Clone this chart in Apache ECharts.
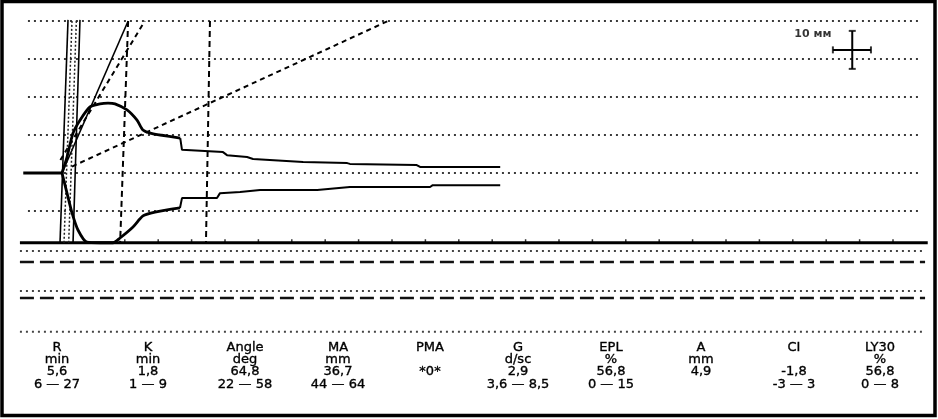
<!DOCTYPE html>
<html><head><meta charset="utf-8">
<script src="https://cdn.jsdelivr.net/npm/echarts@6/dist/echarts.min.js"></script>
<style>html,body{margin:0;padding:0;background:#fff}#c{width:938px;height:419px}</style>
</head><body><div id="c"></div>
<script>
// x: time (min), y: amplitude (mm) relative to trace centre
const flatStart = [[-0.2,0],[5.6,0]];
const upperEarly = [[5.6,0],[6.35,4.2],[7.25,10.5],[8.29,13.9],[9.79,17.4],[11.29,18.2],[12.49,18.4],[13.53,18.2],[15.33,16.6],[16.83,13.9],[17.72,11.3],[18.77,10.5],[20.3,10.0],[23.3,9.2]];
const upperLate = [[23.3,9.2],[23.56,6.1],[29.7,5.5],[30.3,4.7],[33.3,4.2],[34.2,3.7],[41.7,2.9],[48.3,2.6],[48.7,2.4],[58.7,2.1],[59.2,1.6],[71.2,1.6]];
const lowerEarly = [[5.6,0],[6.35,-5.3],[7.1,-10.5],[7.99,-15.0],[9.34,-18.2],[11.29,-18.35],[13.23,-18.35],[14.28,-17.1],[16.23,-14.2],[17.72,-11.3],[19.52,-10.3],[23.26,-9.2]];
const lowerLate = [[23.26,-9.2],[23.56,-6.6],[28.8,-6.6],[29.25,-5.3],[32.25,-5.0],[35.25,-4.5],[43.8,-4.5],[48.7,-3.7],[60.7,-3.7],[61.1,-3.2],[71.2,-3.2]];
const gridLevels = [40,30,20,10,0,-10];
const gridSpan = [0.5,134];
const baseLevel = -18.35;
const baseSpan = [-0.7,135.2];
const lowerDotted = [-20.5,-31.05,-41.8];
const lowerDashed = [-23.4,-32.9];
const lowerSpan = [-0.7,134.8];
const angleLine = [[5.6,0],[15.5,40]];
const angleLow = [[7.1,1.7],[54.4,40]];
const angleHigh = [[5.36,3.4],[18.0,40]];
const vertLines = [[[15.5,40],[14.3,-18.35]],[[27.75,40],[27.15,-18.35]]];
const bandSolid = [[[5.3,-18.35],[6.5,40.3]],[[7.25,-18.35],[8.29,40.3]]];
const bandDotted = [[[5.9,-18.35],[7.1,40.3]],[[6.6,-18.35],[7.75,40.3]]];
const baseTicks = [15,20,25,30,35,40,45,50,55,60,65,70,75,80,85,90,95,100,105,110,115,120,125,130];
const scaleCross = {v:[[123.9,27.4],[123.9,37.4]], h:[[121.0,32.4],[126.7,32.4]]};
const scaleLabel = [[118.0,36.6]];
const paramNames = ['R','K','Angle','MA','PMA','G','EPL','A','CI','LY30'];
const paramUnits = ['min','min','deg','mm','','d/sc','%','mm','','%'];
const paramValues = ['5,6','1,8','64,8','36,7','*0*','2,9','56,8','4,9','-1,8','56,8'];
const paramRanges = ['6 — 27','1 — 9','22 — 58','44 — 64','','3,6 — 8,5','0 — 15','','-3 — 3','0 — 8'];

const colX = [57,148,245,338,430,518,611,701,794,880];
const rowY = [348,360,372,385];

function ln(data, width, type, color, z, smooth){
  return {type:'line', data:data, symbol:'none', silent:true, animation:false, smooth:smooth||false,
    lineStyle:{width:width, type:type||'solid', color:color||'#000', cap:'butt'}, z:z||2};
}
const series = [];
gridLevels.forEach(l=>series.push(ln([[gridSpan[0],l],[gridSpan[1],l]],2,[2,4],'#3a3a3a',1)));
lowerDotted.forEach(l=>series.push(ln([[lowerSpan[0],l],[lowerSpan[1],l]],2,[2,4],'#444',1)));
lowerDashed.forEach(l=>series.push(ln([[lowerSpan[0],l],[lowerSpan[1],l]],2.5,[14,6],'#111',1)));
series.push(ln([[baseSpan[0],baseLevel],[baseSpan[1],baseLevel]],2.8,'solid','#000',3));
bandSolid.forEach(d=>series.push(ln(d,1.6,'solid','#000',4)));
bandDotted.forEach(d=>series.push(ln(d,1.5,[2,2],'#222',4)));
vertLines.forEach(d=>series.push(ln(d,2,[6,4],'#000',3)));
series.push(ln(angleLine,1.6,'solid','#000',3));
series.push(ln(angleLow,2,[5,4],'#000',3));
series.push(ln(angleHigh,2,[5,4],'#000',3));
series.push(ln(flatStart,3,'solid','#000',5));
series.push(ln(upperEarly,2.8,'solid','#000',5,0.25));
series.push(ln(lowerEarly,2.8,'solid','#000',5,0.25));
series.push(ln(upperLate,2,'solid','#000',5));
series.push(ln(lowerLate,2,'solid','#000',5));
series.push(ln(scaleCross.v,2,'solid','#000',5));
series.push(ln(scaleCross.h,2,'solid','#000',5));
series.push({type:'scatter', data:[scaleCross.v[0],scaleCross.v[1]], symbol:'rect', symbolSize:[7,2], itemStyle:{color:'#000'}, silent:true, animation:false, z:5});
series.push({type:'scatter', data:[scaleCross.h[0],scaleCross.h[1]], symbol:'rect', symbolSize:[2,7], itemStyle:{color:'#000'}, silent:true, animation:false, z:5});
series.push({type:'scatter', data:baseTicks.map(t=>[t,baseLevel]), symbol:'rect', symbolSize:[1.5,3], symbolOffset:[0,-2], itemStyle:{color:'#000'}, silent:true, animation:false, z:3});
series.push({type:'scatter', data:scaleLabel, symbolSize:1, itemStyle:{color:'rgba(0,0,0,0)'}, silent:true, animation:false, z:6,
  label:{show:true, position:'inside', formatter:'10 мм', color:'#000', fontSize:11, fontWeight:'bold', fontFamily:'DejaVu Sans'}});

const graphic = [{type:'rect', shape:{x:2,y:1.5,width:933,height:414}, style:{fill:'none', stroke:'#000', lineWidth:3.5}, silent:true, z:10}];
const rows = [paramNames, paramUnits, paramValues, paramRanges];
rows.forEach((row,ri)=>row.forEach((txt,ci)=>{
  if(!txt) return;
  graphic.push({type:'text', x:colX[ci], y:rowY[ri], silent:true,
    style:{text:txt, fill:'#000', stroke:'#000', lineWidth:0.35, font:'13px "DejaVu Sans"', textAlign:'center', textVerticalAlign:'middle'}});
}));

const chart = echarts.init(document.getElementById('c'), null, {renderer:'canvas'});
chart.setOption({
  animation:false,
  backgroundColor:'#fff',
  grid:{left:4.56, width:928.52, top:13.4, height:319.2},
  xAxis:{type:'value', min:-3, max:136, show:false},
  yAxis:{type:'value', min:-42, max:42, show:false},
  series:series,
  graphic:graphic
});
</script></body></html>
